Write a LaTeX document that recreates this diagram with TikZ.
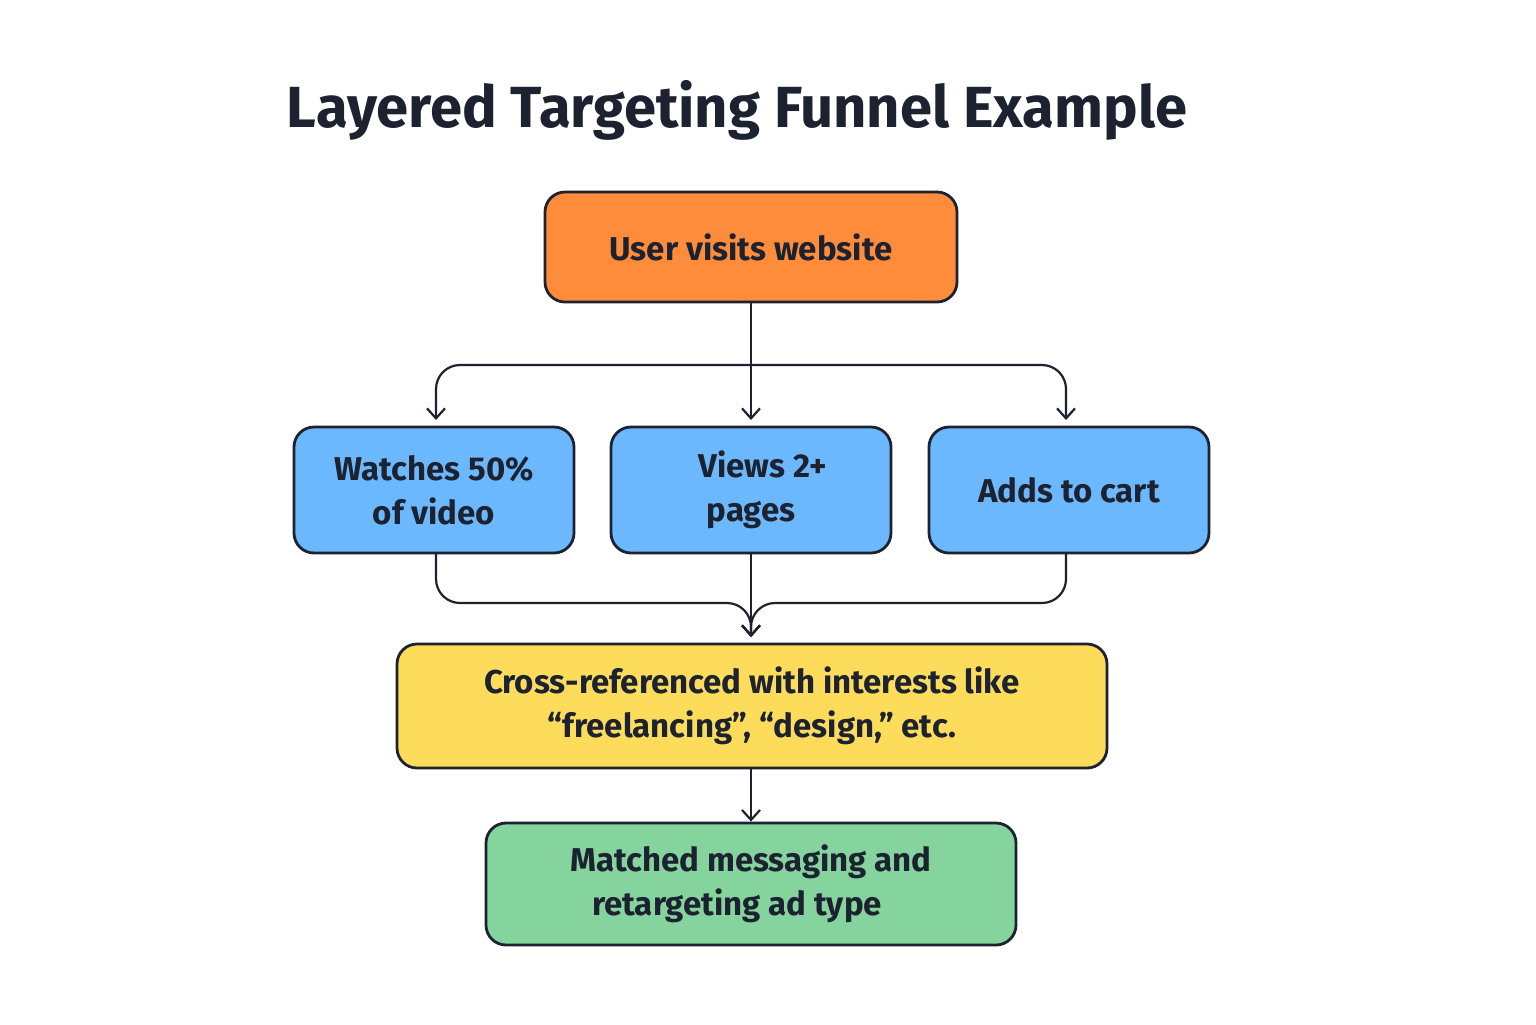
\documentclass[tikz,border=0pt]{standalone}
\usepackage{fontspec}
\setmainfont{Fira Sans}
\usetikzlibrary{positioning, arrows.meta}
\definecolor{orng}{HTML}{FF8C3A}
\definecolor{sky}{HTML}{6CB8FF}
\definecolor{yel}{HTML}{FDDC5C}
\definecolor{grn}{HTML}{85D49E}
\definecolor{ink}{HTML}{1C2230}
\tikzset{
  stage/.style={draw=ink, line width=1.4pt, rounded corners=10pt, align=center,
    text=ink, font=\fontsize{16.5}{22}\selectfont\bfseries, inner sep=0pt},
  flow/.style={draw=ink, line width=1.1pt, rounded corners=12pt, -{Straight Barb[length=5pt,width=9pt]}}
}
\begin{document}
\begin{tikzpicture}[x=0.5pt, y=-0.5pt]
        \useasboundingbox (0,0) rectangle (1536,1024);
        \node[text=ink, font=\fontsize{29}{34}\selectfont\bfseries] (title) at (737,110) {Layered Targeting Funnel Example};
        
        \node[stage, fill=orng, minimum width=206pt, minimum height=55pt] (visit) at (751,247) {User visits website};
        
        \node[stage, fill=sky, minimum width=140pt, minimum height=63pt] (watch) at (434,490) {Watches 50\%\\of video};
        \node[stage, fill=sky, minimum width=140pt, minimum height=63pt] (views) at (751,490) {\hspace*{12pt}Views 2+\\pages};
        \node[stage, fill=sky, minimum width=140pt, minimum height=63pt] (cart) at (1069,490) {Adds to cart};
        
        \node[stage, fill=yel, minimum width=355pt, minimum height=62pt] (cross) at (752,706) {Cross-referenced with interests like\\“freelancing”, “design,” etc.};
        \node[stage, fill=grn, minimum width=265pt, minimum height=61pt] (match) at (751,884) {Matched messaging and\\retargeting ad type\hspace*{14pt}};
        
        % branch and merge points
        \coordinate (split) at (751,365);
        \coordinate (join) at (751,603);
        \coordinate (wtop) at (436,420);
        \coordinate (ctop) at (1066,420);
        \coordinate (wbot) at (436,553);
        \coordinate (cbot) at (1066,553);
        \coordinate (mid) at (751,637);
        
        \draw[flow] (visit.south) -- (751,420);
        \draw[flow] (split) -| (wtop);
        \draw[flow] (split) -| (ctop);
        
        \draw[flow] (wbot) |- (join) -- (mid);
        \draw[flow] (cbot) |- (join) -- (mid);
        \draw[flow] (views.south) -- (mid);
        
        \draw[flow] (cross.south -| join) -- (match.north -| join);
\end{tikzpicture}
\end{document}
